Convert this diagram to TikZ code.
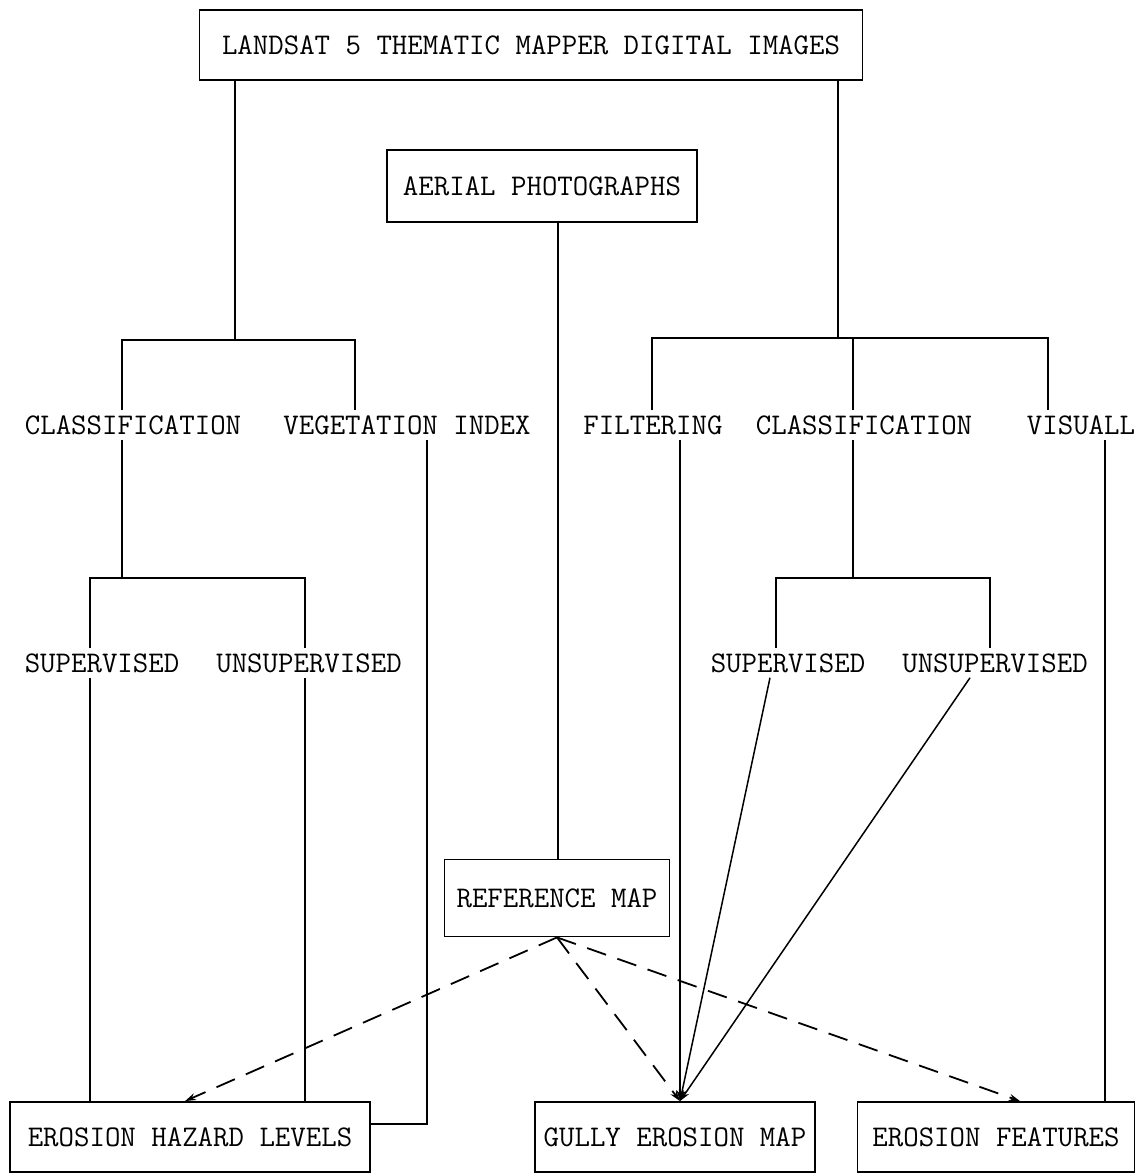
\documentclass[tikz,border=0pt]{standalone}
\usetikzlibrary{arrows.meta}
\begin{document}
\begin{tikzpicture}[x=1pt, y=-1pt, line width=1.5pt,
  font=\fontsize{30}{36}\selectfont\ttfamily,
  >={Stealth[length=11pt,width=7pt]},
  box/.style={draw, line width=1.8pt, minimum height=70pt, inner sep=0pt},
  txt/.style={inner sep=0pt, text height=18pt, text depth=0pt, minimum height=28pt},
  dashline/.style={line width=1.8pt, dash pattern=on 20pt off 12pt}]
\useasboundingbox (0,0) rectangle (1142,1174);
% boxes
\node (landsat) [box, minimum width=663pt] at (531,45) {LANDSAT 5 THEMATIC MAPPER DIGITAL IMAGES};
\node (aerial) [box, minimum width=310pt, minimum height=72pt] at (542,186) {AERIAL PHOTOGRAPHS};
\node (refmap) [box, minimum width=225pt, minimum height=77pt] at (557,898) {REFERENCE MAP};
\node (hazard) [box, minimum width=360pt] at (190,1137) {EROSION HAZARD LEVELS};
\node (gully) [box, minimum width=280pt] at (675,1137) {GULLY EROSION MAP};
\node (feat) [box, minimum width=277pt] at (996,1137) {EROSION FEATURES};
% methods
\node (classl) [txt] at (133,425) {CLASSIFICATION};
\node (vegind) [txt] at (407,425) {VEGETATION INDEX};
\node (filt) [txt] at (653,425) {FILTERING};
\node (classr) [txt] at (864,425) {CLASSIFICATION};
\node (visu) [txt] at (1081,425) {VISUALL};
\node (supl) [txt] at (102,663) {SUPERVISED};
\node (unsupl) [txt] at (309,663) {UNSUPERVISED};
\node (supr) [txt] at (788,663) {SUPERVISED};
\node (unsupr) [txt] at (995,663) {UNSUPERVISED};
% junctions
\coordinate (lbar) at (235,340);
\coordinate (rbar) at (838,338);
\coordinate (lbar2) at (122,578);
\coordinate (rbar2) at (853,578);
\coordinate (gtop) at ([xshift=5pt]gully.north);
% tree lines
\draw (landsat.south -| lbar) -- (lbar);
\draw (landsat.south -| rbar) -- (rbar);
\draw ([xshift=-11pt]classl.north) |- (lbar) -| ([xshift=-52pt]vegind.north);
\draw ([xshift=-1pt]filt.north) |- (rbar) -| ([xshift=-33pt]visu.north);
\draw ([xshift=-11pt]classr.north) -- ([xshift=-11pt]classr.north |- rbar);
\draw ([xshift=-11pt]classl.south) -- (lbar2);
\draw ([xshift=-12pt]supl.north) |- (lbar2) -| ([xshift=-4pt]unsupl.north);
\draw ([xshift=-11pt]classr.south) -- (rbar2);
\draw ([xshift=-12pt]supr.north) |- (rbar2) -| ([xshift=-5pt]unsupr.north);
% to results
\draw ([xshift=-12pt]supl.south) -- ([xshift=-12pt]supl.south |- hazard.north);
\draw ([xshift=-4pt]unsupl.south) -- ([xshift=-4pt]unsupl.south |- hazard.north);
\draw ([xshift=20pt]vegind.south) |- ([yshift=13pt]hazard.east);
\draw ([xshift=16pt]aerial.south) -- ([xshift=16pt]aerial.south |- refmap.north);
\draw [->] ([xshift=27pt]filt.south) -- (gtop);
\draw [->] ([xshift=-18pt]supr.south) -- (gtop);
\draw [->] ([xshift=-25pt]unsupr.south) -- (gtop);
\draw ([xshift=24pt]visu.south) -- ([xshift=24pt]visu.south |- feat.north);
% reference checks
\draw [->, dashline] (refmap.south) -- ([xshift=-5pt]hazard.north);
\draw [->, dashline] (refmap.south) -- (gtop);
\draw [->, dashline] (refmap.south) -- ([xshift=24pt]feat.north);
\end{tikzpicture}
\end{document}
